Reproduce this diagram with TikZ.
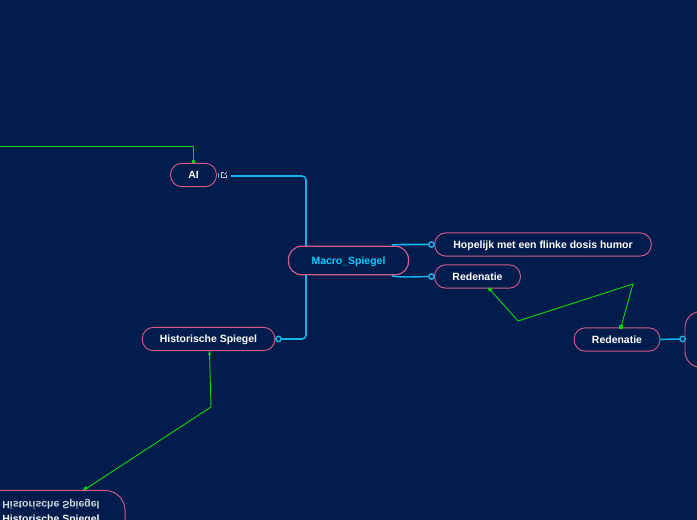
\documentclass[tikz,border=0pt]{standalone}
\usepackage{fontspec}
\setmainfont{Liberation Sans}
\definecolor{bgc}{HTML}{021C4B}
\definecolor{pinkc}{HTML}{D45A8E}
\definecolor{cyanc}{HTML}{14B4E6}
\definecolor{greenc}{HTML}{0BD30B}
\definecolor{titlec}{HTML}{00CFFF}
\tikzset{
  x=0.75pt,y=-0.75pt,
  topic/.style={draw=pinkc,line width=0.7pt,fill=bgc,rounded corners=8.5pt,text=white,inner sep=0pt,font=\bfseries\fontsize{7.85}{9}\selectfont,minimum height=17.5pt,text height=5.8pt,text depth=0pt},
  link/.style={draw=cyanc,line width=1.2pt,rounded corners=3pt},
  rel/.style={draw=greenc,line width=0.7pt},
  relhead/.style={fill=greenc,inner sep=0pt,minimum size=2.4pt},
  port/.style={circle,draw=cyanc,line width=1.1pt,fill=bgc,inner sep=0pt,minimum size=4pt},
}
\begin{document}
\begin{tikzpicture}
\path[fill=bgc] (0,0) rectangle (697,520);
\useasboundingbox (0,0) rectangle (697,520);
\clip (0,0) rectangle (697,520);
% connectors under nodes
\coordinate (leftend) at (0,146);
\coordinate (bend1) at (193.5,146);
\coordinate (relA) at (518,321);
\coordinate (relB) at (633,284);
\coordinate (relC) at (211,407);
\coordinate (aiout) at (231,176);
\coordinate (r1s) at (490,289.5);
\coordinate (r2n) at (621,327);
\coordinate (hs) at (209.5,352);
\coordinate (h2s) at (84,490);
% nodes
\node[topic,minimum width=34.5pt] (ai) at (193.5,175) {AI};
\node[topic,minimum width=90pt,minimum height=21.5pt,line width=0.9pt,rounded corners=10pt,text=titlec] (macro) at (348.5,260.5) {Macro\_Spiegel};
\node[topic,minimum width=162.5pt] (hope) at (543,244.5) {Hopelijk met een flinke dosis humor};
\node[topic,minimum width=64.5pt] (red1) at (477.5,276.5) {Redenatie};
\node[topic,minimum width=99.5pt] (hist) at (208.5,339) {Historische Spiegel};
\node[topic,minimum width=64.5pt] (red2) at (617,339.5) {Redenatie};
\node[topic,minimum width=60pt,minimum height=42pt,rounded corners=12pt] (off) at (725,339.5) {};
\node[topic,minimum width=120pt,minimum height=60pt,rounded corners=15pt,anchor=north east] (hist2) at (125.5,490) {};
\node[text=white!82!bgc,font=\bfseries\fontsize{7.85}{9}\selectfont,inner sep=0pt] (hist2a) at (51,504) {\scalebox{1}[-1]{Historische Spiegel}};
\node[text=white,font=\bfseries\fontsize{7.85}{9}\selectfont,inner sep=0pt] (hist2b) at (51,519.5) {Historische Spiegel};
% ports
\node[port] (p1) at (431.5,244.5) {};
\node[port] (p2) at (431.5,276.5) {};
\node[port] (p3) at (278.5,339) {};
\node[port] (p4) at (682.5,339) {};
% branches
\draw[link] (aiout) -- (306,176) -- (306,246);
\draw[link] (306,275) -- (306,339) -- (p3);
\draw[link] (392,245) -- (400,244.5) -- (p1);
\draw[link] (392,276) -- (400,277) -- (p2);
\draw[link] (red2.east) -- (p4);
% collapse marker and icon
\draw[cyanc,line width=1pt] (218.5,173) -- (218.5,178);
\draw[white!75!bgc,line width=0.6pt] (223.5,172.5) -- (221,172.5) -- (221,177.5) -- (226.5,177.5) -- (226.5,175);
\draw[white!75!bgc,line width=0.6pt] (224.5,174.5) -- (226.5,172.5);
% relationships
\draw[rel] (leftend) -- (bend1) -- (ai.north);
\node[relhead] (h1) at (193.5,161.5) {};
\draw[rel] (r1s) -- (relA) -- (relB) -- (r2n);
\node[relhead,circle,minimum size=3pt] (h2) at (r1s) {};
\node[relhead] (h3) at (r2n) {};
\draw[rel] (hs) -- (relC) -- (h2s);
\fill[greenc] (209.5,351) -- (207.8,355) -- (211.2,355) -- cycle;
\fill[greenc] (83,490) -- (88,489) -- (85.5,486) -- cycle;
\end{tikzpicture}
\end{document}
